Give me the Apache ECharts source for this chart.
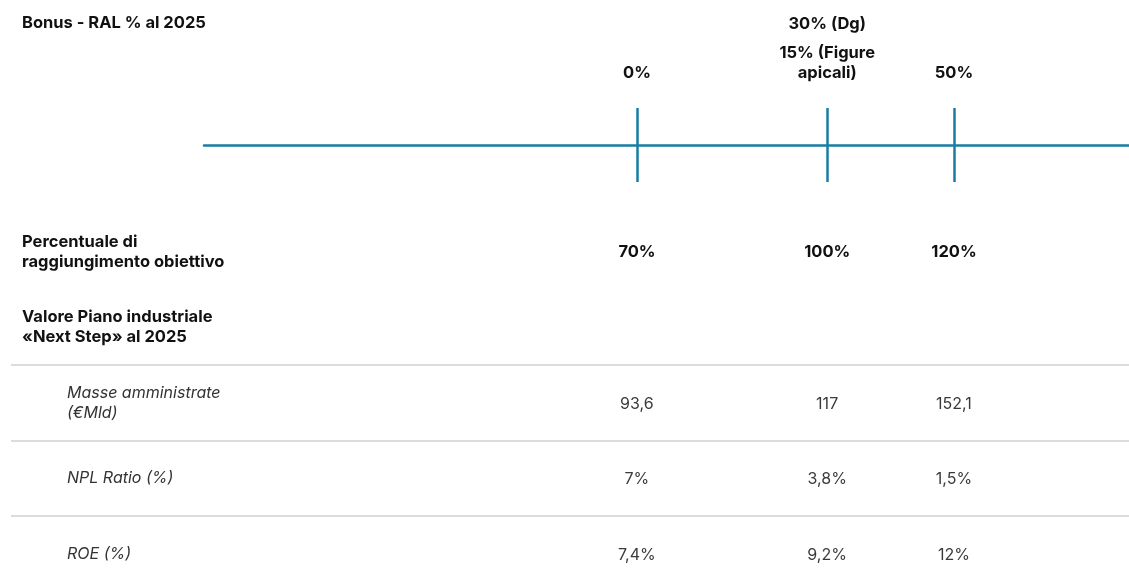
<!DOCTYPE html>
<html>
<head>
<meta charset="utf-8">
<script src="https://cdn.jsdelivr.net/npm/echarts@6/dist/echarts.min.js"></script>
<style>
  html, body { margin: 0; padding: 0; background: #fff; }
  #chart { width: 1129px; height: 585px; }
</style>
</head>
<body>
<div id="chart"></div>
<script>
// percentuale di raggiungimento obiettivo (x position of every column)
const achievement = [70, 100, 120]
const bonusLabels = ['0%', '15% (Figure\napicali)', '50%']
const bonusExtra = ['', '30% (Dg)', '']

const metrics = ['Masse amministrate\n(€Mld)', 'NPL Ratio (%)', 'ROE (%)']
const masse = ['93,6', '117', '152,1']
const npl = ['7%', '3,8%', '1,5%']
const roe = ['7,4%', '9,2%', '12%']
const metricValues = [masse, npl, roe]

const BLUE = '#1a7ca6'
const FONT = 'Inter'

const tableData = []
metricValues.forEach((row, i) => {
  row.forEach((v, j) => {
    tableData.push([achievement[j], metrics[i], v])
  })
})

const boldLabel = {
  color: '#111',
  fontWeight: 'bold',
  fontSize: 16.5,
  fontFamily: FONT,
  lineHeight: 20
}

// invisible points that only carry a label
const hiddenPoint = { color: 'transparent', opacity: 1 }

const getOption = () => {
  return {
    animation: false,
    textStyle: { fontFamily: FONT },
    title: [
      { text: 'Bonus - RAL % al 2025', left: 22, top: 13, padding: 0, textStyle: boldLabel },
      { text: 'Percentuale di\nraggiungimento obiettivo', left: 22, top: 232, padding: 0, textStyle: boldLabel },
      { text: 'Valore Piano industriale\n«Next Step» al 2025', left: 22, top: 307, padding: 0, textStyle: boldLabel }
    ],
    grid: [
      { left: 204, right: 0, top: 108, height: 74, outerBoundsMode: 'none' },
      { left: 11, right: 0, top: 365, height: 226.5, outerBoundsMode: 'none' }
    ],
    xAxis: [
      {
        gridIndex: 0,
        type: 'value',
        min: 1.7,
        max: 147.6,
        axisLine: { show: true, onZero: true, lineStyle: { color: BLUE, width: 2.5 } },
        axisTick: { show: false },
        axisLabel: { show: false },
        splitLine: { show: false }
      },
      {
        gridIndex: 1,
        type: 'value',
        min: -28.7,
        max: 147.6,
        show: false,
        splitLine: { show: false }
      }
    ],
    yAxis: [
      {
        gridIndex: 0,
        type: 'value',
        min: -1,
        max: 1,
        show: false
      },
      {
        gridIndex: 1,
        type: 'category',
        inverse: true,
        data: metrics,
        axisLine: { show: false },
        axisTick: { show: false },
        splitLine: { show: true, lineStyle: { color: '#dcdcdc', width: 2 } },
        axisLabel: {
          inside: true,
          margin: 56,
          align: 'left',
          color: '#333',
          fontStyle: 'italic',
          fontSize: 16,
          lineHeight: 20
        }
      }
    ],
    series: [
      {
        // bonus % above the scale + vertical markers
        type: 'scatter',
        xAxisIndex: 0,
        yAxisIndex: 0,
        symbolSize: 1,
        itemStyle: hiddenPoint,
        data: achievement.map((p, i) => [p, 1, bonusLabels[i]]),
        label: {
          show: true,
          position: 'top',
          distance: 24,
          formatter: (p) => p.data[2],
          ...boldLabel,
          align: 'center'
        },
        markLine: {
          silent: true,
          symbol: 'none',
          label: { show: false },
          lineStyle: { color: BLUE, width: 2.5, type: 'solid', opacity: 1 },
          data: achievement.map(p => ({ xAxis: p }))
        }
      },
      {
        type: 'scatter',
        xAxisIndex: 0,
        yAxisIndex: 0,
        symbolSize: 1,
        itemStyle: hiddenPoint,
        data: achievement.map((p, i) => [p, 1, bonusExtra[i]]),
        label: {
          show: true,
          position: 'top',
          distance: 73,
          formatter: (p) => p.data[2],
          ...boldLabel
        }
      },
      {
        // percentuale di raggiungimento
        type: 'scatter',
        xAxisIndex: 0,
        yAxisIndex: 0,
        symbolSize: 1,
        itemStyle: hiddenPoint,
        data: achievement.map(p => [p, -1]),
        label: {
          show: true,
          position: 'bottom',
          distance: 60,
          formatter: (p) => p.data[0] + '%',
          ...boldLabel
        }
      },
      {
        // valori piano industriale
        type: 'scatter',
        xAxisIndex: 1,
        yAxisIndex: 1,
        symbolSize: 1,
        itemStyle: hiddenPoint,
        data: tableData,
        label: {
          show: true,
          position: 'inside',
          offset: [0, 1],
          formatter: (p) => p.data[2],
          color: '#3a3a3a',
          fontSize: 16,
          fontWeight: 'normal'
        }
      }
    ]
  }
}

window.addEventListener('load', () => {
  const chart = echarts.init(document.getElementById('chart'))
  chart.setOption(getOption())
})
</script>
</body>
</html>
